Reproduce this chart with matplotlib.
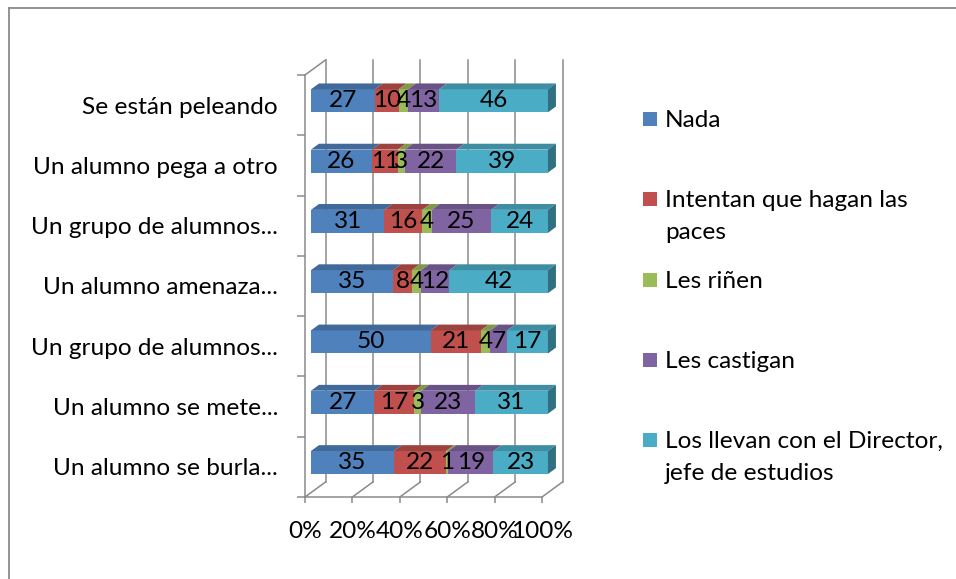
import numpy as np
import matplotlib.pyplot as plt
from matplotlib.patches import Polygon, Rectangle
from matplotlib.lines import Line2D
from matplotlib.colors import to_rgb

plt.rcParams['font.family'] = ['Lato', 'DejaVu Sans']

# Datos (de abajo hacia arriba)
categorias = ["Un alumno se burla...", "Un alumno se mete...", "Un grupo de alumnos...",
              "Un alumno amenaza...", "Un grupo de alumnos...", "Un alumno pega a otro",
              "Se están peleando"]
series = ["Nada", "Intentan que hagan las\npaces", "Les riñen", "Les castigan",
          "Los llevan con el Director,\njefe de estudios"]
nada = [35, 27, 50, 35, 31, 26, 27]
intentan = [22, 17, 21, 8, 16, 11, 10]
rinen = [1, 3, 4, 4, 4, 3, 4]
castigan = [19, 23, 7, 12, 25, 22, 13]
director = [23, 31, 17, 42, 24, 39, 46]
ticks_x = [0, 20, 40, 60, 80, 100]

colores = ['#4F81BD', '#C0504D', '#9BBB59', '#8064A2', '#4BACC6']
gris = '#8a8a8a'
fs = 17.6

valores = np.array([nada, intentan, rinen, castigan, director], dtype=float)
porcentaje = valores / valores.sum(axis=0) * 100

W, H = 956, 579
fig = plt.figure(figsize=(W / 100, H / 100), dpi=100)
ax = fig.add_axes([305 / W, (H - 497) / H, 237 / W, 422 / H])
ax.set_xlim(0, 100)
ax.set_ylim(-0.5, len(categorias) - 0.5)

# profundidad 3D en unidades de datos
px_x = 100 / 237
px_y = len(categorias) / 422
DX, DY = 20.5 * px_x, 15 * px_y
f0, f1 = 0.29, 0.68
hh = 11.5 * px_y


def oscuro(c, k):
    r, g, b = to_rgb(c)
    return (r * k, g * k, b * k)


# pared del fondo y suelo
for t in ticks_x:
    ax.plot([t + DX, t + DX], [-0.5 + DY, 6.5 + DY], color=gris, lw=1.1, zorder=1, clip_on=False)
    ax.plot([t, t + DX], [-0.5, -0.5 + DY], color=gris, lw=1.1, zorder=1, clip_on=False)
ax.plot([0, DX], [6.5, 6.5 + DY], color=gris, lw=1.1, zorder=1, clip_on=False)

# barras
for i in range(len(categorias)):
    izq = 0
    for j in range(len(series)):
        w = porcentaje[j, i]
        x0, x1 = izq, izq + w
        ax.add_patch(Rectangle((x0 + f0 * DX, i - hh + f0 * DY), w, 2 * hh,
                               fc=colores[j], ec='none', zorder=3, clip_on=False))
        ax.add_patch(Polygon([(x0 + f0 * DX, i + hh + f0 * DY), (x1 + f0 * DX, i + hh + f0 * DY),
                              (x1 + f1 * DX, i + hh + f1 * DY), (x0 + f1 * DX, i + hh + f1 * DY)],
                             closed=True, fc=oscuro(colores[j], 0.82), ec='none', zorder=3, clip_on=False))
        if j == len(series) - 1:
            ax.add_patch(Polygon([(x1 + f0 * DX, i - hh + f0 * DY), (x1 + f0 * DX, i + hh + f0 * DY),
                                  (x1 + f1 * DX, i + hh + f1 * DY), (x1 + f1 * DX, i - hh + f1 * DY)],
                                 closed=True, fc=oscuro(colores[j], 0.65), ec='none', zorder=3, clip_on=False))
        ax.text(x0 + w / 2 + f0 * DX, i + f0 * DY, f"{int(valores[j, i])}", ha='center', va='center',
                fontsize=fs, color='black', zorder=5)
        izq = x1

# ejes
for s in ['top', 'right']:
    ax.spines[s].set_visible(False)
for s in ['left', 'bottom']:
    ax.spines[s].set_color(gris)
    ax.spines[s].set_linewidth(1.1)
ax.set_xticks(ticks_x)
ax.set_xticklabels([f"{t}%" for t in ticks_x], fontsize=fs)
ax.set_yticks(range(len(categorias)))
ax.set_yticklabels(categorias, fontsize=fs)
ax.set_yticks(np.arange(-0.5, len(categorias), 1.0), minor=True)
ax.tick_params(axis='x', length=4.3, width=1.1, color=gris, pad=13)
ax.tick_params(axis='y', which='major', length=0, pad=19.5)
ax.tick_params(axis='y', which='minor', length=5.8, width=1.1, color=gris)
ax.patch.set_visible(False)

# leyenda
for k, nombre in enumerate(series):
    yc = 119 + 80.3 * k
    fig.add_artist(Rectangle((643 / W, 1 - (yc + 7) / H), 14 / W, 14 / H, fc=colores[k], ec='none',
                             transform=fig.transFigure))
    for n, linea in enumerate(nombre.split('\n')):
        fig.text(665 / W, 1 - (yc + 1.5 + 32 * n) / H, linea, fontsize=fs, ha='left', va='center')

# marco
fig.add_artist(Line2D([9 / W, 1], [1 - 8 / H, 1 - 8 / H], color=gris, lw=1.3, transform=fig.transFigure))
fig.add_artist(Line2D([9 / W, 9 / W], [0, 1 - 8 / H], color=gris, lw=1.3, transform=fig.transFigure))

fig.savefig('out.png', dpi=100)
